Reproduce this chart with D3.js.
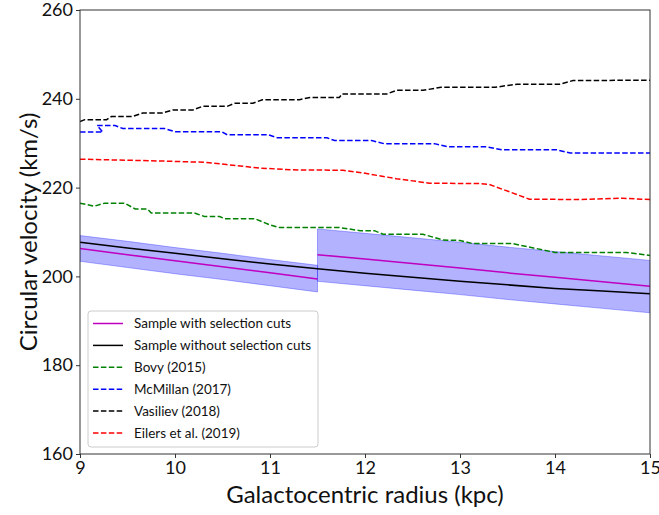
<!DOCTYPE html>
<html>
<head>
<meta charset="utf-8">
<script src="https://cdn.jsdelivr.net/npm/d3@7"></script>
<style>
  body { margin: 0; background: #fff; }
  svg { display: block; }
  text { font-family: Lato, "DejaVu Sans", sans-serif; fill: #111; }
</style>
</head>
<body>
<svg id="chart" width="659" height="515"></svg>
<script>
// Rotation-curve models (R in kpc, v in km/s)
const bovy = [[9.0,216.5],[9.15,215.8],[9.26,216.5],[9.47,216.5],[9.58,215.2],[9.71,215.2],[9.75,214.3],[10.2,214.3],[10.31,213.5],[10.47,213.5],[10.52,213.0],[10.84,213.0],[11.0,211.6],[11.1,211.0],[11.73,211.0],[11.95,210.3],[12.1,210.3],[12.19,209.5],[12.61,209.5],[12.82,208.2],[13.0,208.1],[13.13,207.4],[13.55,207.4],[14.0,205.4],[14.75,205.4],[15.0,204.7]];
const mcmillan = [[9.0,232.5],[9.24,232.5],[9.18,234.0],[9.37,234.0],[9.45,233.3],[9.89,233.3],[10.0,232.6],[10.49,232.6],[10.55,231.9],[10.98,231.9],[11.08,231.2],[11.6,231.2],[11.68,230.6],[12.07,230.6],[12.2,229.9],[12.73,229.9],[12.87,229.2],[13.28,229.2],[13.44,228.5],[14.02,228.5],[14.16,227.8],[15.0,227.8]];
const vasiliev = [[9.0,234.9],[9.05,235.3],[9.28,235.3],[9.33,236.0],[9.55,236.0],[9.66,236.8],[9.87,236.8],[9.98,237.5],[10.19,237.5],[10.29,238.3],[10.55,238.3],[10.63,239.0],[10.82,239.0],[10.92,239.8],[11.31,239.8],[11.42,240.3],[11.73,240.3],[11.76,241.1],[12.23,241.1],[12.33,241.9],[12.61,241.9],[12.8,242.6],[13.37,242.6],[13.6,243.3],[14.05,243.3],[14.19,244.1],[15.0,244.2]];
const eilers = [[9.0,226.4],[9.84,226.0],[10.31,225.7],[10.54,225.2],[10.89,224.4],[11.24,224.0],[11.77,223.9],[11.98,223.3],[12.33,222.0],[12.68,221.0],[13.21,220.9],[13.31,220.7],[13.73,217.4],[14.26,217.3],[14.71,217.6],[15.0,217.3]];

// Sample without selection cuts
const fullR = [9.0,9.5,10.0,10.5,11.0,11.5,12.0,12.5,13.0,13.5,14.0,14.5,15.0];
const fullV = [207.7,206.4,205.2,204.0,202.8,201.7,200.7,199.8,198.9,198.1,197.3,196.7,196.1];

// Sample with selection cuts, two radial ranges, with uncertainty band
const cutInnerR = [9.0,9.5,10.0,10.5,11.0,11.5];
const cutInnerV = [206.3,204.9,203.5,202.2,200.8,199.4];
const cutInnerHi = [209.2,207.9,206.5,205.2,203.8,202.5];
const cutInnerLo = [203.4,202.0,200.6,199.3,197.9,196.5];
const cutOuterR = [11.5,12.0,12.5,13.0,13.5,14.0,14.5,15.0];
const cutOuterV = [204.9,203.9,202.9,201.9,200.8,199.8,198.8,197.8];
const cutOuterHi = [210.7,209.7,208.7,207.7,206.6,205.6,204.6,203.6];
const cutOuterLo = [198.9,197.9,196.9,195.9,194.8,193.8,192.8,191.8];

const xTicks = [9,10,11,12,13,14,15];
const yTicks = [160,180,200,220,240,260];

const legendItems = [
  {label: "Sample with selection cuts", color: "#bf00bf", dash: null},
  {label: "Sample without selection cuts", color: "#000000", dash: null},
  {label: "Bovy (2015)", color: "#008000", dash: "5.5,2.4"},
  {label: "McMillan (2017)", color: "#0000ff", dash: "5.5,2.4"},
  {label: "Vasiliev (2018)", color: "#000000", dash: "5.5,2.4"},
  {label: "Eilers et al. (2019)", color: "#ff0000", dash: "5.5,2.4"}
];

const svg = d3.select("#chart");
const margin = {left: 80, right: 9, top: 10, bottom: 61};
const W = 659, H = 515;
const x = d3.scaleLinear().domain([9,15]).range([margin.left, W - margin.right]);
const y = d3.scaleLinear().domain([160,260]).range([H - margin.bottom, margin.top]);

svg.append("clipPath").attr("id","plotclip").append("rect")
  .attr("x", x(9)).attr("y", y(260)).attr("width", x(15)-x(9)).attr("height", y(160)-y(260));
const plot = svg.append("g").attr("clip-path","url(#plotclip)");

const line = d3.line().x(d => x(d[0])).y(d => y(d[1]));
const zip = (a, b) => a.map((v, i) => [v, b[i]]);

// uncertainty bands
const area = d3.area().x(d => x(d[0])).y0(d => y(d[2])).y1(d => y(d[1]));
[[cutInnerR, cutInnerHi, cutInnerLo],[cutOuterR, cutOuterHi, cutOuterLo]].forEach(([r, hi, lo]) => {
  plot.append("path").datum(r.map((v,i) => [v, hi[i], lo[i]]))
    .attr("d", area).attr("fill", "#0000ff").attr("fill-opacity", 0.3)
    .attr("stroke", "#0000ff").attr("stroke-opacity", 0.3).attr("stroke-width", 1);
});

// model curves
const models = [[bovy,"#008000"],[mcmillan,"#0000ff"],[vasiliev,"#000000"],[eilers,"#ff0000"]];
models.forEach(([pts, c]) => {
  plot.append("path").datum(pts).attr("d", line).attr("fill","none")
    .attr("stroke", c).attr("stroke-width", 1.5).attr("stroke-dasharray","5.5,2.4");
});

// sample curves
plot.append("path").datum(zip(cutInnerR, cutInnerV)).attr("d", line).attr("fill","none").attr("stroke","#bf00bf").attr("stroke-width",1.5);
plot.append("path").datum(zip(cutOuterR, cutOuterV)).attr("d", line).attr("fill","none").attr("stroke","#bf00bf").attr("stroke-width",1.5);
plot.append("path").datum(zip(fullR, fullV)).attr("d", line).attr("fill","none").attr("stroke","#000").attr("stroke-width",1.5);

// frame
svg.append("rect").attr("x", x(9)).attr("y", y(260)).attr("width", x(15)-x(9)).attr("height", y(160)-y(260))
  .attr("fill","none").attr("stroke","#333").attr("stroke-width",1);

// axes
const xAxis = svg.append("g").attr("transform", `translate(0,${y(160)})`)
  .call(d3.axisBottom(x).tickValues(xTicks).tickFormat(d3.format("d")).tickSize(4).tickPadding(3));
const yAxis = svg.append("g").attr("transform", `translate(${x(9)},0)`)
  .call(d3.axisLeft(y).tickValues(yTicks).tickFormat(d3.format("d")).tickSize(4).tickPadding(3));
[xAxis, yAxis].forEach(a => {
  a.select(".domain").remove();
  a.selectAll(".tick line").attr("stroke","#333");
  a.selectAll(".tick text").style("font-family","Lato, sans-serif").style("font-size","18px").attr("fill","#111");
});

svg.append("text").attr("x", (x(9)+x(15))/2).attr("y", 503).attr("text-anchor","middle")
  .style("font-size","24px").text("Galactocentric radius (kpc)");
svg.append("text").attr("transform", `translate(37,${(y(160)+y(260))/2}) rotate(-90)`).attr("text-anchor","middle")
  .style("font-size","24px").text("Circular velocity (km/s)");

// legend
const lg = svg.append("g");
lg.append("rect").attr("x", 88).attr("y", 311).attr("width", 230).attr("height", 136).attr("rx", 3)
  .attr("fill", "#fff").attr("fill-opacity", 0.8).attr("stroke", "#ccc").attr("stroke-width", 1);
legendItems.forEach((it, i) => {
  const yy = 323.5 + i * 21.9;
  lg.append("line").attr("x1", 93).attr("x2", 123).attr("y1", yy).attr("y2", yy)
    .attr("stroke", it.color).attr("stroke-width", 1.5).attr("stroke-dasharray", it.dash);
  lg.append("text").attr("x", 134).attr("y", yy).attr("dy", "0.35em").style("font-size","13.5px").text(it.label);
});
</script>
</body>
</html>
